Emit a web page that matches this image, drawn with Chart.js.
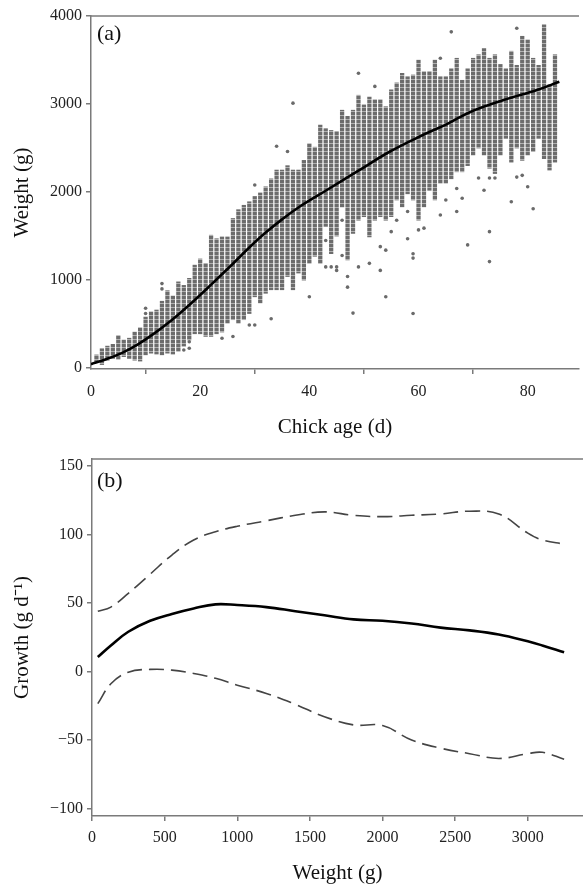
<!DOCTYPE html>
<html><head><meta charset="utf-8">
<script src="https://cdn.jsdelivr.net/npm/chart.js@4.4.1/dist/chart.umd.min.js"></script>
<style>
html,body{margin:0;padding:0;background:#fff;}
#wrap{position:relative;width:583px;height:884px;overflow:hidden;}
canvas{position:absolute;left:0;}
#c1{top:0}
#c2{top:445px}
.lab{position:absolute;font-family:'Liberation Serif',serif;font-size:22px;color:#111;line-height:22px;}
</style></head><body>
<div id="wrap">
<canvas id="c1" width="583" height="445"></canvas>
<canvas id="c2" width="583" height="439"></canvas>
<div class="lab" style="left:97px;top:22px">(a)</div>
<div class="lab" style="left:97px;top:469px">(b)</div>
</div>
<script>
// ---------- Panel (a) data ----------
const ageDays = [1,2,3,4,5,6,7,8,9,10,11,12,13,14,15,16,17,18,19,20,21,22,23,24,25,26,27,28,29,30,31,32,33,34,35,36,37,38,39,40,41,42,43,44,45,46,47,48,49,50,51,52,53,54,55,56,57,58,59,60,61,62,63,64,65,66,67,68,69,70,71,72,73,74,75,76,77,78,79,80,81,82,83,84,85];
const bandLow = [70,40,90,110,100,130,110,90,80,150,170,160,150,170,160,190,250,320,390,390,360,360,390,410,510,550,510,550,620,810,740,850,890,890,890,1040,890,1080,1000,1190,1270,1190,1610,1300,1500,1830,1230,1530,1680,1720,1490,1680,1720,1680,1720,1910,1830,1980,1910,1680,1830,2020,1910,2100,2100,2150,2230,2230,2300,2420,2500,2420,2270,2210,2420,2610,2340,2500,2360,2420,2460,2610,2380,2250,2340];
const bandHigh = [150,220,250,270,370,320,340,410,460,580,640,660,760,880,820,980,940,1020,1170,1240,1190,1510,1470,1490,1490,1700,1800,1850,1890,1950,1990,2060,2150,2250,2250,2300,2250,2250,2360,2550,2510,2760,2720,2700,2690,2930,2860,2930,3100,2990,3080,3050,3050,2970,3160,3240,3350,3310,3330,3500,3370,3370,3500,3310,3310,3400,3520,3270,3400,3520,3560,3630,3520,3560,3450,3400,3600,3440,3770,3730,3520,3440,3900,3220,3560];
const outlierAge = [10,10,13,13,17,18,18,24,26,29,30,30,33,34,36,37,40,43,43,44,45,45,46,46,47,47,48,49,49,51,52,53,53,54,54,55,56,58,58,59,59,59,60,61,64,64,65,66,67,67,68,69,71,72,73,73,73,74,77,78,78,79,80,81];
const outlierWeight = [680,620,900,960,205,225,300,340,360,490,490,2080,560,2520,2460,3010,810,1450,1150,1150,1150,1110,1680,1280,1040,920,625,3350,1150,1190,3200,1380,1110,1340,810,1550,1680,1780,1470,1300,1250,620,1570,1590,3520,1740,1910,3820,2040,1780,1930,1400,2160,2020,2160,1550,1210,2160,1890,3860,2170,2190,2060,1810];
const fitAge = [0,2.5,5.6,8.6,11.6,14.7,17.7,20,22.2,25.9,29,32,35,38,43,48.7,54.7,60.8,65.3,69.6,75.6,81.7,85.8];
const fitWeight = [45,95,170,270,395,540,700,830,960,1180,1370,1540,1690,1825,2015,2231,2458,2648,2775,2913,3045,3159,3253];
const ageTicks = [0,20,40,60,80];
const weightTicks = [0,1000,2000,3000,4000];

// ---------- Panel (b) data ----------
const growthWeight = [40,130,250,400,550,700,850,1000,1200,1400,1600,1800,2000,2200,2400,2600,2800,3000,3100,3250];
const growthMean  = [10.5,19,29,37,42,46,49,48.5,47,44,41,38,37,35,32,30,27,22,19,14];
const growthUpper = [44,47,57,71,85,96,102,106,110,114,116.5,114,113,114,115,117,115,101,96,93];
const growthLower = [-23.5,-9,-0.5,1.5,1,-1.5,-5,-10,-16,-24,-33,-39,-39.5,-50,-56,-60,-63.5,-60,-59,-64];
const wTicks = [0,500,1000,1500,2000,2500,3000];
const gTicks = [-100,-50,0,50,100,150];

Chart.defaults.font.family = "'Liberation Serif', 'Times New Roman', serif";
Chart.defaults.devicePixelRatio = 1;

const topBorder = {id:'topBorder', afterDatasetsDraw(chart){
  const {ctx, chartArea:a} = chart; ctx.save(); ctx.strokeStyle='#7a7a7a'; ctx.lineWidth=1.5;
  ctx.beginPath(); ctx.moveTo(a.left, a.top); ctx.lineTo(a.right, a.top); ctx.stroke(); ctx.restore(); }};

function beadPattern(ctx){
  const c = document.createElement('canvas'); c.width = 1; c.height = 4;
  const g = c.getContext('2d');
  g.fillStyle = '#6c6c6c'; g.fillRect(0,0,1,3);
  g.fillStyle = '#b0b0b0'; g.fillRect(0,3,1,1);
  return ctx.createPattern(c, 'repeat');
}
const plainLabel = v => String(v).replace('-', '\u2212');

function axis(extra){
  return Object.assign({
    type:'linear',
    border:{display:true,color:'#7a7a7a',width:1.5},
    grid:{display:true,drawOnChartArea:false,drawTicks:true,tickLength:5,color:'#7a7a7a',lineWidth:1.5},
  }, extra);
}
const tickFont = {size:16};
const titleFont = {size:21, lineHeight:1};

// ---------- Chart (a) ----------
const ctx1 = document.getElementById('c1').getContext('2d');
new Chart(ctx1, {
  type:'scatter',
  data:{datasets:[
    {type:'bar', data: ageDays.map((d,i)=>({x:d, y:[bandLow[i], bandHigh[i]]})),
     backgroundColor: beadPattern(ctx1), borderWidth:0, barThickness:3.6, grouped:false, order:3},
    {type:'scatter', data: outlierAge.map((d,i)=>({x:d, y:outlierWeight[i]})),
     pointRadius:1.8, pointBackgroundColor:'#6a6a6a', pointBorderWidth:0, order:2},
    {type:'line', data: fitAge.map((d,i)=>({x:d, y:fitWeight[i]})),
     borderColor:'#000', borderWidth:2.6, pointRadius:0, tension:0.4, fill:false, order:1}
  ]},
  options:{
    responsive:false, animation:false,
    layout:{padding:{left:0,right:0,top:16,bottom:0}},
    plugins:{legend:{display:false}, tooltip:{enabled:false}},
    scales:{
      x: axis({min:0, max:89.4, offset:false,
        afterBuildTicks:s=>{s.ticks = ageTicks.map(v=>({value:v}));},
        afterFit:s=>{s.height = 76;},
        ticks:{color:'#222', font:tickFont, padding:8, maxRotation:0, autoSkip:false, callback:plainLabel},
        title:{display:true, text:'Chick age (d)', color:'#111', font:titleFont, padding:{top:0,bottom:7}}}),
      y: axis({min:-10, max:4000,
        afterBuildTicks:s=>{s.ticks = weightTicks.map(v=>({value:v}));},
        afterFit:s=>{s.width = 91;},
        ticks:{color:'#222', font:tickFont, padding:4, callback:plainLabel},
        title:{display:true, text:'Weight (g)', color:'#111', font:titleFont, padding:{top:12,bottom:0}}})
    }
  },
  plugins:[topBorder]
});

// ---------- Chart (b) ----------
const ctx2 = document.getElementById('c2').getContext('2d');
new Chart(ctx2, {
  type:'scatter',
  data:{datasets:[
    {type:'line', data: growthWeight.map((w,i)=>({x:w, y:growthUpper[i]})),
     borderColor:'#444', borderWidth:1.6, borderDash:[15,7], pointRadius:0, tension:0.4, fill:false},
    {type:'line', data: growthWeight.map((w,i)=>({x:w, y:growthLower[i]})),
     borderColor:'#444', borderWidth:1.6, borderDash:[15,7], pointRadius:0, tension:0.4, fill:false},
    {type:'line', data: growthWeight.map((w,i)=>({x:w, y:growthMean[i]})),
     borderColor:'#000', borderWidth:2.6, pointRadius:0, tension:0.4, fill:false}
  ]},
  options:{
    responsive:false, animation:false,
    layout:{padding:{left:0,right:0,top:14,bottom:0}},
    plugins:{legend:{display:false}, tooltip:{enabled:false}},
    scales:{
      x: axis({min:0, max:3380,
        afterBuildTicks:s=>{s.ticks = wTicks.map(v=>({value:v}));},
        afterFit:s=>{s.height = 68;},
        ticks:{color:'#222', font:tickFont, padding:7, maxRotation:0, autoSkip:false, callback:plainLabel},
        title:{display:true, text:'Weight (g)', color:'#111', font:titleFont, padding:{top:0,bottom:0}}}),
      y: axis({min:-105.5, max:155.1,
        afterBuildTicks:s=>{s.ticks = gTicks.map(v=>({value:v}));},
        afterFit:s=>{s.width = 92;},
        ticks:{color:'#222', font:tickFont, padding:4, callback:plainLabel},
        title:{display:true, text:'Growth (g d\u207B\u00B9)', color:'#111', font:titleFont, padding:{top:12,bottom:0}}})
    }
  },
  plugins:[topBorder]
});
</script>
</body></html>
